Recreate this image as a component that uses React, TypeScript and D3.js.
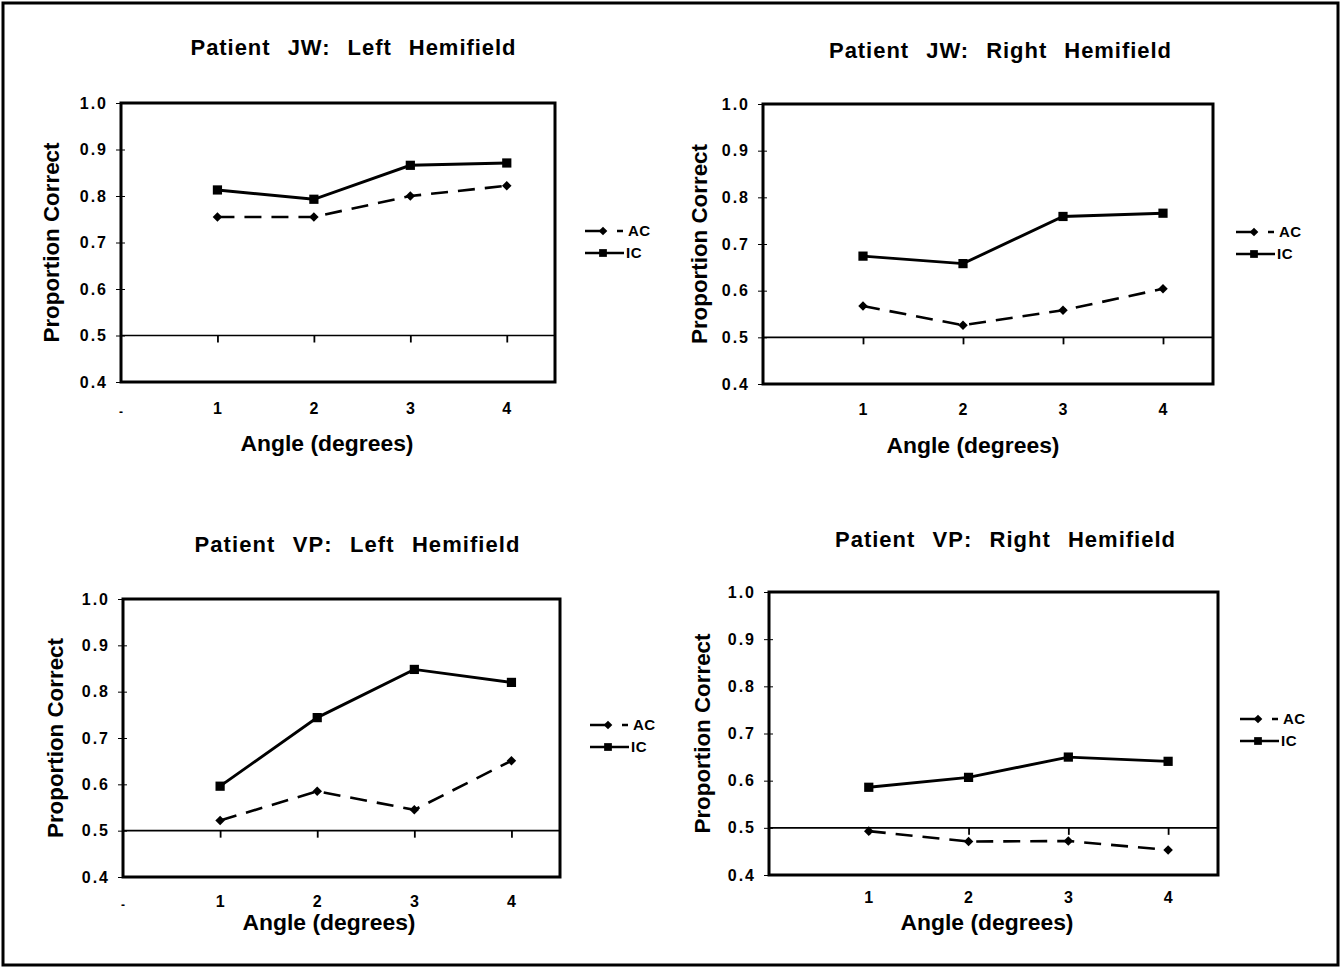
import React, { useEffect, useRef } from 'react';
import * as d3 from 'd3';

// values
const angles = [1, 2, 3, 4];
const yTicks = [0.4, 0.5, 0.6, 0.7, 0.8, 0.9, 1.0];
const seriesNames = ['AC', 'IC'];
const panelTitles = [
  'Patient  JW:  Left  Hemifield',
  'Patient  JW:  Right  Hemifield',
  'Patient  VP:  Left  Hemifield',
  'Patient  VP:  Right  Hemifield',
];
const jwLeftAC = [0.755, 0.755, 0.8, 0.822];
const jwLeftIC = [0.813, 0.793, 0.866, 0.871];
const jwRightAC = [0.567, 0.526, 0.558, 0.604];
const jwRightIC = [0.674, 0.658, 0.759, 0.766];
const vpLeftAC = [0.522, 0.585, 0.545, 0.651];
const vpLeftIC = [0.596, 0.744, 0.848, 0.82];
const vpRightAC = [0.493, 0.471, 0.472, 0.453];
const vpRightIC = [0.586, 0.607, 0.65, 0.641];

const panelData = [
  [jwLeftAC, jwLeftIC],
  [jwRightAC, jwRightIC],
  [vpLeftAC, vpLeftIC],
  [vpRightAC, vpRightIC],
];

// layout of each panel in page pixels
const layout = [
  { x0: 121, x1: 555, y0: 103, y1: 382, tx: 353, ty: 55, tw: 325, yl: 51, xlx: 327, xly: 451, tly: 414, lgx: 585, lgy: 231, dash: true },
  { x0: 763, x1: 1213, y0: 104, y1: 384, tx: 1000, ty: 58, tw: 342, yl: 699, xlx: 973, xly: 453, tly: 415, lgx: 1236, lgy: 232, dash: false },
  { x0: 123, x1: 560, y0: 599, y1: 877, tx: 357, ty: 552, tw: 325, yl: 55, xlx: 329, xly: 930, tly: 907, lgx: 590, lgy: 725, dash: true },
  { x0: 769, x1: 1218, y0: 592, y1: 875, tx: 1005, ty: 547, tw: 340, yl: 702, xlx: 987, xly: 930, tly: 903, lgx: 1240, lgy: 719, dash: false },
];

const FONT = '"Liberation Sans", Arial, Helvetica, sans-serif';

const App: React.FC = () => {
  const ref = useRef<SVGSVGElement | null>(null);

  useEffect(() => {
    if (!ref.current) return;
    const svg = d3.select(ref.current);
    svg.selectAll('*').remove();

    svg.append('rect').attr('width', 1344).attr('height', 968).attr('fill', '#fff');
    svg
      .append('rect')
      .attr('x', 3)
      .attr('y', 3)
      .attr('width', 1335)
      .attr('height', 962)
      .attr('fill', 'none')
      .attr('stroke', '#000')
      .attr('stroke-width', 3);

    layout.forEach((L, i) => {
      const g = svg.append('g');
      const x = d3.scaleLinear().domain([0, 4.5]).range([L.x0, L.x1]);
      const y = d3.scaleLinear().domain([0.4, 1.0]).range([L.y1, L.y0]);

      // title
      g.append('text')
        .attr('x', L.tx)
        .attr('y', L.ty)
        .attr('text-anchor', 'middle')
        .attr('textLength', L.tw)
        .attr('lengthAdjust', 'spacing')
        .style('font-family', FONT)
        .style('font-weight', 'bold')
        .style('font-size', '22px')
        .style('word-spacing', '1.5px')
        .style('white-space', 'pre')
        .text(panelTitles[i]);

      // y axis ticks + labels
      const yAxis = d3
        .axisLeft(y)
        .tickValues(yTicks)
        .tickFormat(d3.format('.1f'))
        .tickSize(5)
        .tickPadding(8);
      const ya = g.append('g').attr('transform', `translate(${L.x0},0)`).call(yAxis);
      ya.select('.domain').remove();
      ya.selectAll('line').attr('x1', 4).attr('stroke', '#000').attr('stroke-width', 1);
      ya.selectAll('text')
        .style('font-family', FONT)
        .style('font-weight', 'bold')
        .style('font-size', '16px')
        .style('letter-spacing', '2px')
        .attr('fill', '#000');

      // x axis crosses at 0.5
      const xAxis = d3.axisBottom(x).tickValues(angles).tickSize(7).tickFormat(() => '');
      const xa = g.append('g').attr('transform', `translate(0,${y(0.5)})`).call(xAxis);
      xa.select('.domain').remove();
      xa.selectAll('line').attr('stroke', '#000').attr('stroke-width', 1.8);
      g.append('line')
        .attr('x1', L.x0)
        .attr('x2', L.x1)
        .attr('y1', y(0.5))
        .attr('y2', y(0.5))
        .attr('stroke', '#000')
        .attr('stroke-width', 1.7);

      g.selectAll('.xlab')
        .data(angles)
        .enter()
        .append('text')
        .attr('x', (d) => x(d))
        .attr('y', L.tly)
        .attr('text-anchor', 'middle')
        .style('font-family', FONT)
        .style('font-weight', 'bold')
        .style('font-size', '16px')
        .text((d) => String(d));
      if (L.dash) {
        g.append('text')
          .attr('x', x(0))
          .attr('y', L.tly + 2)
          .attr('text-anchor', 'middle')
          .style('font-family', FONT)
          .style('font-weight', 'bold')
          .style('font-size', '12px')
          .text('-');
      }

      // plot box
      g.append('rect')
        .attr('x', L.x0)
        .attr('y', L.y0)
        .attr('width', L.x1 - L.x0)
        .attr('height', L.y1 - L.y0)
        .attr('fill', 'none')
        .attr('stroke', '#000')
        .attr('stroke-width', 3);

      // axis titles
      g.append('text')
        .attr('transform', `translate(${L.yl},${(L.y0 + L.y1) / 2}) rotate(-90)`)
        .attr('text-anchor', 'middle')
        .attr('dy', '0.35em')
        .attr('textLength', 200)
        .attr('lengthAdjust', 'spacingAndGlyphs')
        .style('font-family', FONT)
        .style('font-weight', 'bold')
        .style('font-size', '22px')
        .text('Proportion Correct');
      g.append('text')
        .attr('x', L.xlx)
        .attr('y', L.xly)
        .attr('text-anchor', 'middle')
        .attr('textLength', 173)
        .attr('lengthAdjust', 'spacingAndGlyphs')
        .style('font-family', FONT)
        .style('font-weight', 'bold')
        .style('font-size', '22px')
        .text('Angle (degrees)');

      const line = d3
        .line<number>()
        .x((_, j) => x(angles[j]))
        .y((d) => y(d));

      const [ac, ic] = panelData[i];

      g.append('path')
        .attr('d', line(ac))
        .attr('fill', 'none')
        .attr('stroke', '#000')
        .attr('stroke-width', 2.6)
        .attr('stroke-dasharray', '17,10');
      g.append('path')
        .attr('d', line(ic))
        .attr('fill', 'none')
        .attr('stroke', '#000')
        .attr('stroke-width', 2.9);

      const diamond = d3.symbol().type(d3.symbolDiamond2).size(58);
      const square = d3.symbol().type(d3.symbolSquare).size(85);
      const legendDiamond = d3.symbol().type(d3.symbolDiamond2).size(48);
      const legendSquare = d3.symbol().type(d3.symbolSquare).size(60);

      g.selectAll('.acm')
        .data(ac)
        .enter()
        .append('path')
        .attr('d', diamond())
        .attr('transform', (d, j) => `translate(${x(angles[j])},${y(d)})`)
        .attr('fill', '#000');
      g.selectAll('.icm')
        .data(ic)
        .enter()
        .append('path')
        .attr('d', square())
        .attr('transform', (d, j) => `translate(${x(angles[j])},${y(d)})`)
        .attr('fill', '#000');

      // legend
      const lg = g.append('g').attr('transform', `translate(${L.lgx},${L.lgy})`);
      lg.append('line')
        .attr('x1', 0)
        .attr('x2', 38)
        .attr('stroke', '#000')
        .attr('stroke-width', 2.5)
        .attr('stroke-dasharray', '16,16,6');
      lg.append('path').attr('d', legendDiamond()).attr('transform', 'translate(18,0)').attr('fill', '#000');
      lg.append('line')
        .attr('x1', 0)
        .attr('x2', 39)
        .attr('y1', 22)
        .attr('y2', 22)
        .attr('stroke', '#000')
        .attr('stroke-width', 2.5);
      lg.append('path').attr('d', legendSquare()).attr('transform', 'translate(18,22)').attr('fill', '#000');
      seriesNames.forEach((s, k) => {
        lg.append('text')
          .attr('x', k === 0 ? 43 : 41)
          .attr('y', k * 22)
          .attr('dy', '0.36em')
          .style('font-family', FONT)
          .style('font-weight', 'bold')
          .style('font-size', '15px')
          .style('letter-spacing', '0.5px')
          .text(s);
      });
    });
  }, []);

  return (
    <svg
      ref={ref}
      width={1344}
      height={968}
      style={{ position: 'absolute', left: 0, top: 0, display: 'block' }}
    />
  );
};

export default App;
